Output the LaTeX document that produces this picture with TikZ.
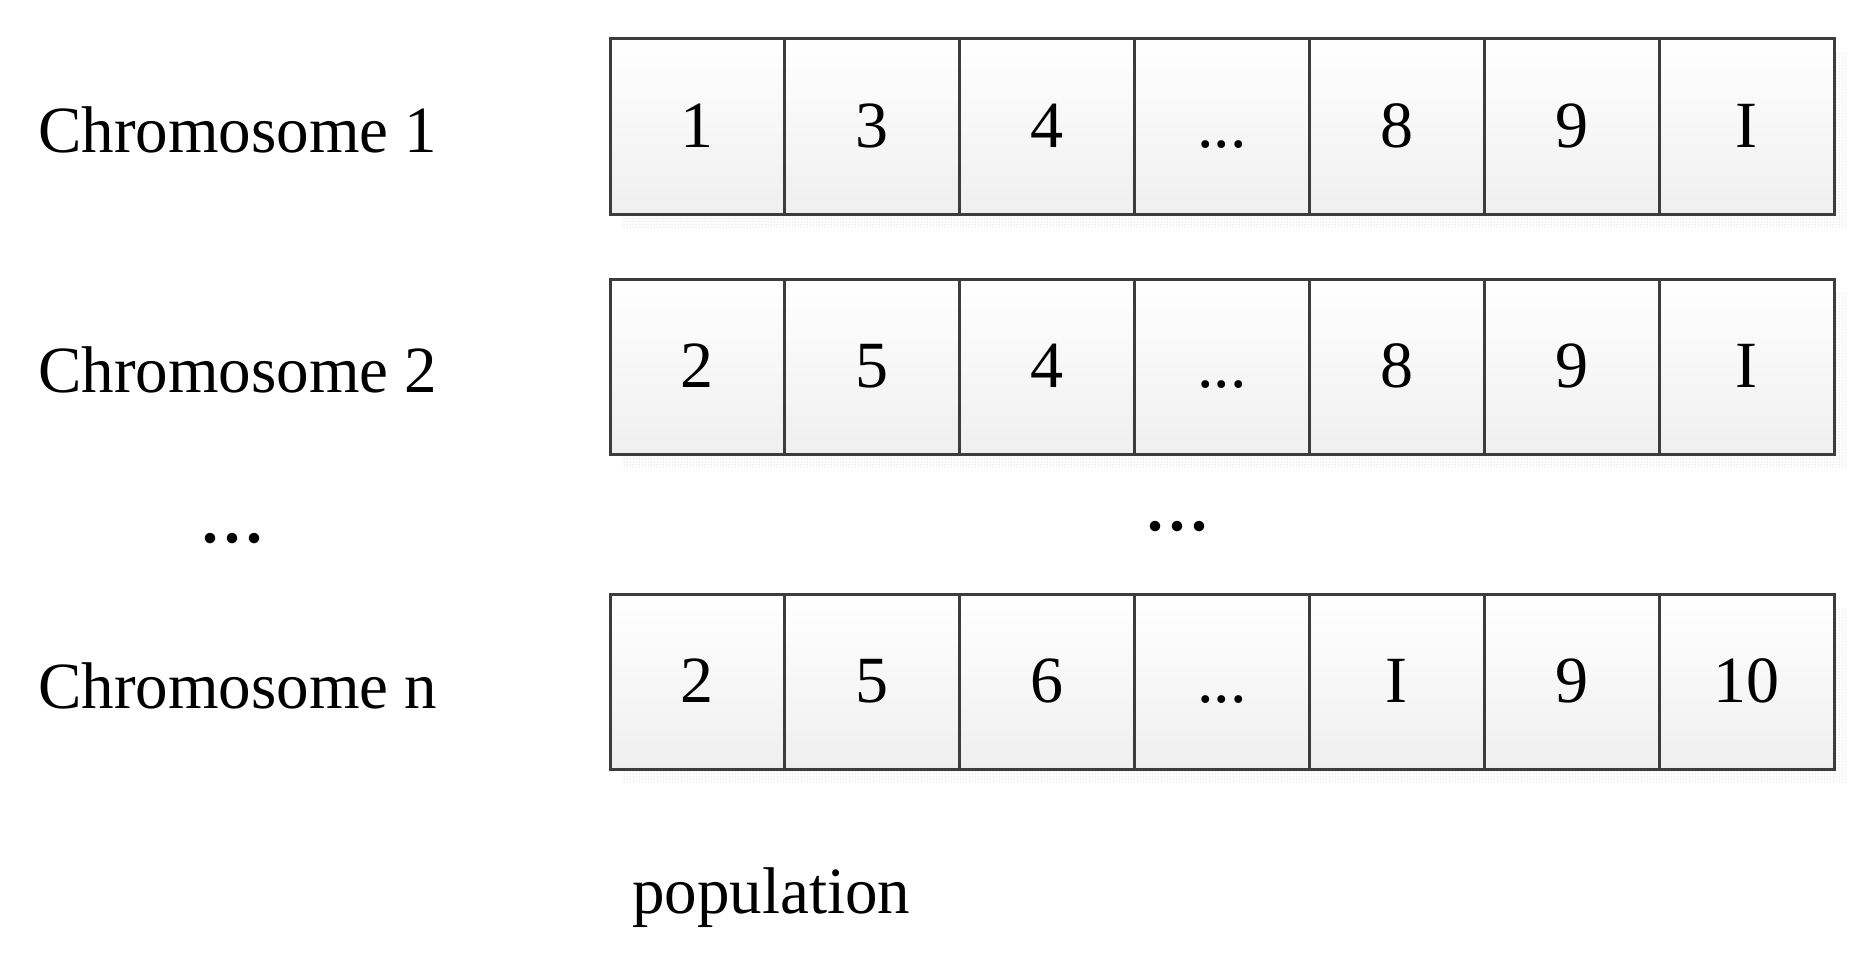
\documentclass[tikz,border=0pt]{standalone}
\usepackage{fontspec}
\setmainfont{Liberation Serif}
\newfontfamily\labfont[FakeStretch=0.985]{Liberation Serif}
\usetikzlibrary{patterns}
\definecolor{boxline}{HTML}{3C3C3C}
\definecolor{cellbottom}{HTML}{EFEFEF}
\definecolor{shadowc}{HTML}{B8B8B8}
\begin{document}
\begin{tikzpicture}[x=1pt,y=-1pt,
  cell/.style={draw=boxline,line width=3pt,top color=white,bottom color=cellbottom,
    minimum width=174.86pt,minimum height=175pt,inner sep=0pt,
    text height=41pt,text depth=0pt,font=\fontsize{66}{70}\selectfont},
  lab/.style={anchor=base west,inner sep=0pt,font=\labfont\fontsize{66}{70}\selectfont},
  bigdots/.style={anchor=base,inner sep=0pt,font=\fontsize{88}{90}\selectfont},
  shadowband/.style={pattern=dots,pattern color=shadowc}]
\useasboundingbox (0,0) rectangle (1862,963);
% shadows
\fill[shadowband] (622,52) rectangle (1847,227);
\fill[shadowband] (622,292) rectangle (1847,467);
\fill[shadowband] (622,607) rectangle (1847,782);
% row 1
\node[cell] (c11) at (697.43,126.5) {1};
\node[cell] (c12) at (872.29,126.5) {3};
\node[cell] (c13) at (1047.14,126.5) {4};
\node[cell] (c14) at (1222.00,126.5) {...};
\node[cell] (c15) at (1396.86,126.5) {8};
\node[cell] (c16) at (1571.71,126.5) {9};
\node[cell] (c17) at (1746.57,126.5) {I};
% row 2
\node[cell] (c21) at (697.43,366.5) {2};
\node[cell] (c22) at (872.29,366.5) {5};
\node[cell] (c23) at (1047.14,366.5) {4};
\node[cell] (c24) at (1222.00,366.5) {...};
\node[cell] (c25) at (1396.86,366.5) {8};
\node[cell] (c26) at (1571.71,366.5) {9};
\node[cell] (c27) at (1746.57,366.5) {I};
% row n
\node[cell] (cn1) at (697.43,681.5) {2};
\node[cell] (cn2) at (872.29,681.5) {5};
\node[cell] (cn3) at (1047.14,681.5) {6};
\node[cell] (cn4) at (1222.00,681.5) {...};
\node[cell] (cn5) at (1396.86,681.5) {I};
\node[cell] (cn6) at (1571.71,681.5) {9};
\node[cell] (cn7) at (1746.57,681.5) {10};
% labels
\node[lab] (l1) at (38,153) {Chromosome 1};
\node[lab] (l2) at (38,392) {Chromosome 2};
\node[lab] (ln) at (38,708) {Chromosome n};
\node[bigdots] (ldots) at (232,542) {...};
\node[bigdots] (mdots) at (1177,530) {...};
\node[lab] (pop) at (632,913) {population};
\end{tikzpicture}
\end{document}
